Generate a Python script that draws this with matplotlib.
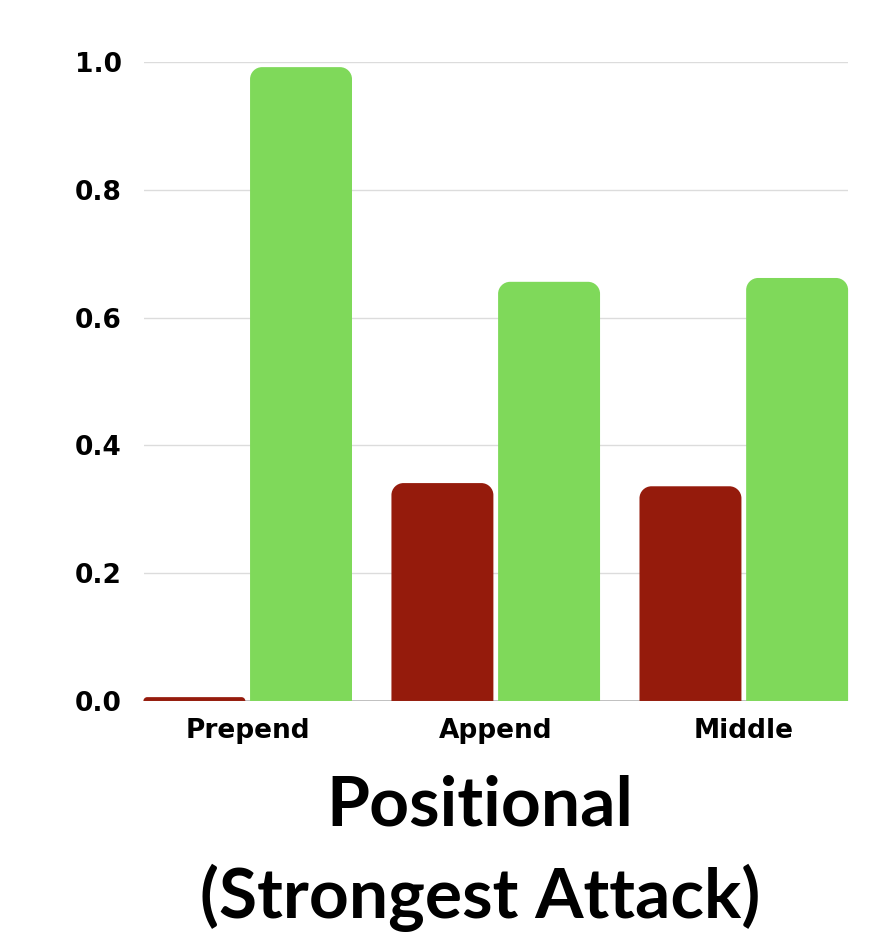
import matplotlib
matplotlib.use("Agg")
import matplotlib.pyplot as plt
from matplotlib.path import Path
from matplotlib.patches import PathPatch
import numpy as np

# Données
positions = ["Prepend", "Append", "Middle"]
red_values = [0.006, 0.341, 0.336]
green_values = [0.992, 0.656, 0.662]
y_ticks = [0.0, 0.2, 0.4, 0.6, 0.8, 1.0]

RED = "#951b0c"
GREEN = "#7fd95a"
TICK_FONT = "DejaVu Sans"
TITLE_FONT = "Lato"

fig = plt.figure(figsize=(8.76, 9.34), dpi=100)
ax = fig.add_axes([0.1644, 0.2495, 0.8036, 0.6841])
ax.set_xlim(-0.418, 2.42)
ax.set_ylim(0, 1.0)

# taille d'un pixel en unités de données (pour les coins arrondis)
bbox = ax.get_position()
px_x = (ax.get_xlim()[1] - ax.get_xlim()[0]) / (bbox.width * fig.get_figwidth() * fig.dpi)
px_y = (ax.get_ylim()[1] - ax.get_ylim()[0]) / (bbox.height * fig.get_figheight() * fig.dpi)


def rounded_bar(x0, w, h, color, r_px=12):
    # barre avec seulement les coins du haut arrondis
    r = min(r_px, h / px_y, w / px_x / 2)
    rx, ry = r * px_x, r * px_y
    k = 0.5523
    x1 = x0 + w
    verts = [
        (x0, 0), (x0, h - ry),
        (x0, h - ry + k * ry), (x0 + rx - k * rx, h), (x0 + rx, h),
        (x1 - rx, h),
        (x1 - rx + k * rx, h), (x1, h - ry + k * ry), (x1, h - ry),
        (x1, 0), (x0, 0),
    ]
    codes = [Path.MOVETO, Path.LINETO,
             Path.CURVE4, Path.CURVE4, Path.CURVE4,
             Path.LINETO,
             Path.CURVE4, Path.CURVE4, Path.CURVE4,
             Path.LINETO, Path.CLOSEPOLY]
    ax.add_patch(PathPatch(Path(verts, codes), facecolor=color,
                           edgecolor="none", zorder=3, clip_on=False))


width = 0.411
offset = 0.215
x = np.arange(len(positions))
for i in range(len(positions)):
    rounded_bar(x[i] - offset - width / 2, width, red_values[i], RED)
    rounded_bar(x[i] + offset - width / 2, width, green_values[i], GREEN)

# grille et axe
for t in y_ticks[1:]:
    ax.axhline(t, color="#dcdcdc", lw=1.0, zorder=1)
ax.axhline(0, color="#b5b5b5", lw=1.2, zorder=2)

for s in ax.spines.values():
    s.set_visible(False)

ax.set_yticks(y_ticks)
ax.set_yticklabels([f"{t:.1f}" for t in y_ticks])
ax.set_xticks(x)
ax.set_xticklabels(positions)
ax.tick_params(axis="both", length=0)
ax.tick_params(axis="y", pad=16)
ax.tick_params(axis="x", pad=12)
for lab in ax.get_yticklabels() + ax.get_xticklabels():
    lab.set_fontfamily(TICK_FONT)
    lab.set_fontweight("bold")
    lab.set_fontsize(19)

fig.text(0.548, 1 - 918 / 934, "Positional\n(Strongest Attack)", ha="center", va="baseline",
         fontsize=50, fontfamily=TITLE_FONT, fontweight="bold", linespacing=1.48)

fig.savefig("out.png", dpi=100, facecolor="white")
